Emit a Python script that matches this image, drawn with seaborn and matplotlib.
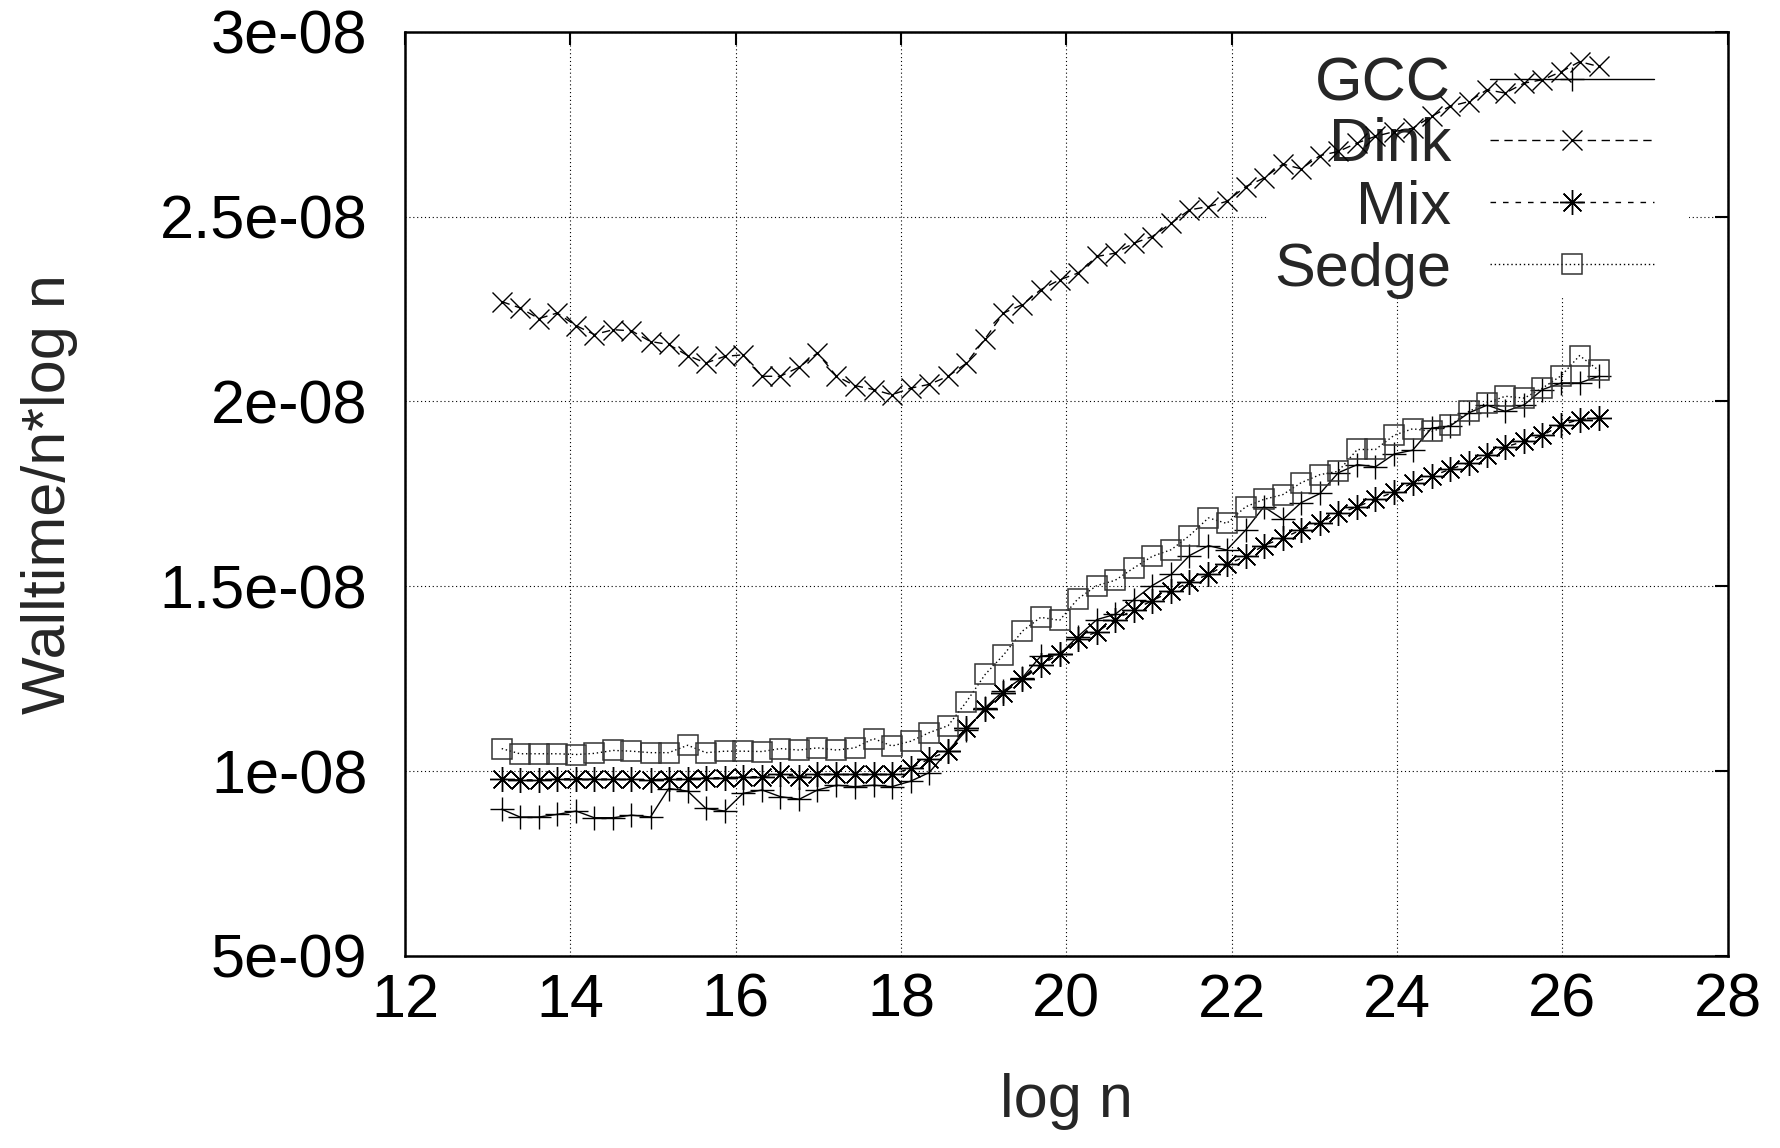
import matplotlib
matplotlib.use("Agg")
import matplotlib.pyplot as plt
import seaborn as sns
from matplotlib.lines import Line2D
from matplotlib.patches import Rectangle

# ---- data (values in units of 1e-9) ----
log_n = [13.17, 13.39, 13.62, 13.84, 14.07, 14.29, 14.52, 14.74, 14.97, 15.19,
         15.42, 15.64, 15.87, 16.09, 16.32, 16.54, 16.77, 16.99, 17.22, 17.44,
         17.67, 17.89, 18.12, 18.34, 18.57, 18.79, 19.02, 19.24, 19.47, 19.69,
         19.92, 20.14, 20.37, 20.59, 20.82, 21.04, 21.27, 21.49, 21.72, 21.94,
         22.17, 22.39, 22.62, 22.84, 23.07, 23.29, 23.52, 23.74, 23.97, 24.19,
         24.42, 24.64, 24.87, 25.09, 25.31, 25.54, 25.76, 25.99, 26.21, 26.44]

gcc = [8.97, 8.76, 8.76, 8.83, 8.92, 8.74, 8.74, 8.81, 8.76, 9.53,
       9.46, 8.99, 8.92, 9.40, 9.49, 9.31, 9.24, 9.49, 9.62, 9.58,
       9.62, 9.58, 9.73, 9.96, 10.55, 11.10, 11.72, 12.17, 12.53, 13.11,
       13.16, 13.64, 14.10, 14.24, 14.64, 15.02, 15.32, 15.83, 16.10, 15.98,
       16.52, 17.15, 16.81, 17.26, 17.51, 18.07, 18.29, 18.23, 18.58, 18.68,
       19.28, 19.33, 19.69, 19.90, 19.73, 19.91, 20.32, 20.50, 20.50, 20.68]

dink = [22.70, 22.53, 22.24, 22.39, 22.05, 21.81, 21.94, 21.91, 21.62, 21.54,
        21.24, 21.04, 21.22, 21.26, 20.68, 20.68, 20.93, 21.31, 20.68, 20.43,
        20.32, 20.18, 20.36, 20.46, 20.68, 21.03, 21.70, 22.39, 22.62, 23.02,
        23.29, 23.47, 23.92, 24.01, 24.28, 24.46, 24.82, 25.18, 25.27, 25.41,
        25.81, 26.04, 26.42, 26.29, 26.65, 26.76, 26.99, 27.17, 27.30, 27.39,
        27.71, 27.98, 28.11, 28.43, 28.34, 28.61, 28.70, 28.92, 29.19, 29.06]

mix = [9.78, 9.76, 9.76, 9.78, 9.80, 9.78, 9.78, 9.78, 9.76, 9.80,
       9.80, 9.82, 9.82, 9.85, 9.85, 9.91, 9.85, 9.91, 9.91, 9.91,
       9.91, 9.91, 10.08, 10.33, 10.54, 11.16, 11.67, 12.12, 12.48, 12.86,
       13.18, 13.58, 13.76, 14.10, 14.37, 14.61, 14.87, 15.11, 15.32, 15.59,
       15.81, 16.10, 16.31, 16.52, 16.72, 16.97, 17.15, 17.36, 17.55, 17.80,
       17.98, 18.16, 18.34, 18.54, 18.77, 18.92, 19.08, 19.37, 19.51, 19.55]

sedge = [10.61, 10.47, 10.47, 10.47, 10.45, 10.48, 10.56, 10.54, 10.50, 10.50,
         10.70, 10.50, 10.54, 10.54, 10.53, 10.61, 10.57, 10.63, 10.57, 10.63,
         10.88, 10.68, 10.81, 11.04, 11.23, 11.87, 12.62, 13.14, 13.79, 14.16,
         14.08, 14.66, 15.02, 15.16, 15.50, 15.81, 15.99, 16.37, 16.85, 16.70,
         17.15, 17.35, 17.48, 17.80, 18.02, 18.11, 18.70, 18.70, 19.09, 19.26,
         19.19, 19.35, 19.73, 19.96, 20.14, 20.09, 20.36, 20.70, 21.24, 20.84]

SCALE = 1e-9
series_names = ["GCC", "Dink", "Mix", "Sedge"]
series_values = [gcc, dink, mix, sedge]

x_ticks = [12, 14, 16, 18, 20, 22, 24, 26, 28]
y_ticks = [5e-9, 1e-8, 1.5e-8, 2e-8, 2.5e-8, 3e-8]
y_tick_labels = ["5e-09", "1e-08", "1.5e-08", "2e-08", "2.5e-08", "3e-08"]

# ---- styles ----
styles = {
    "GCC":   dict(linestyle="-", marker="+", markersize=17, mew=1.0, mec="black"),
    "Dink":  dict(linestyle=(0, (6, 4)), marker="x", markersize=14, mew=1.0, mec="black"),
    "Mix":   dict(linestyle=(0, (4, 5)), marker=(8, 2, 0), markersize=18, mew=1.0, mec="black"),
    "Sedge": dict(linestyle=(0, (1, 2)), marker="s", markersize=15, mew=1.1, mec="#333333"),
}

sns.set_style("white")
plt.rcParams['font.family'] = ['Liberation Sans', 'DejaVu Sans']
FS = 44

fig = plt.figure(figsize=(17.81, 11.48), dpi=100)
ax = fig.add_axes([405 / 1781, (1148 - 956) / 1148, (1727.6 - 405) / 1781, (956 - 31.7) / 1148])

for name, vals in zip(series_names, series_values):
    st = styles[name]
    sns.lineplot(x=log_n, y=[v * SCALE for v in vals], ax=ax, color="black",
                 linestyle=st["linestyle"], linewidth=1.0,
                 marker=st["marker"], markersize=st["markersize"],
                 markerfacecolor="none", markeredgecolor=st["mec"],
                 markeredgewidth=st["mew"], zorder=3, legend=False)

ax.set_xlim(12, 28)
ax.set_ylim(5e-9, 3e-8)
ax.set_xticks(x_ticks)
ax.set_xticklabels([str(t) for t in x_ticks])
ax.set_yticks(y_ticks)
ax.set_yticklabels(y_tick_labels)

ax.set_axisbelow(True)
ax.grid(True, color="black", linestyle=(0, (1, 2.5)), linewidth=0.8)

for sp in ax.spines.values():
    sp.set_linewidth(1.8)
    sp.set_color("black")

ax.tick_params(axis="both", direction="in", length=9.5, width=1.5,
               top=True, right=True, labelsize=FS, colors="black")
ax.tick_params(axis="y", pad=27)
ax.tick_params(axis="x", pad=12)

ax.set_xlabel("log n", fontsize=FS)
ax.set_ylabel("Walltime/n*log n", fontsize=FS)
ax.xaxis.set_label_coords(0.5, -0.127)
ax.yaxis.set_label_coords(-0.247, 0.5)

# ---- key (gnuplot style: text right-aligned, sample on right) ----
ax.add_patch(Rectangle((0.6525, 0.713), 0.318, 0.287, transform=ax.transAxes,
                       facecolor="white", edgecolor="none", zorder=1))
key_y = [0.9489, 0.8829, 0.8155, 0.7487]
for name, yk in zip(series_names, key_y):
    st = styles[name]
    ax.add_line(Line2D([0.820, 0.9447], [yk, yk], transform=ax.transAxes,
                       color="black", linestyle=st["linestyle"], linewidth=1.0, zorder=2))
    ax.add_line(Line2D([0.8827], [yk], transform=ax.transAxes, color="black",
                       linestyle="none", marker=st["marker"], markersize=st["markersize"],
                       markerfacecolor="none", markeredgecolor=st["mec"],
                       markeredgewidth=st["mew"], zorder=2))
    ax.text(0.791, yk - 0.0233, name, transform=ax.transAxes, ha="right",
            va="baseline", fontsize=FS, zorder=2)

fig.savefig("out.png", dpi=100)
